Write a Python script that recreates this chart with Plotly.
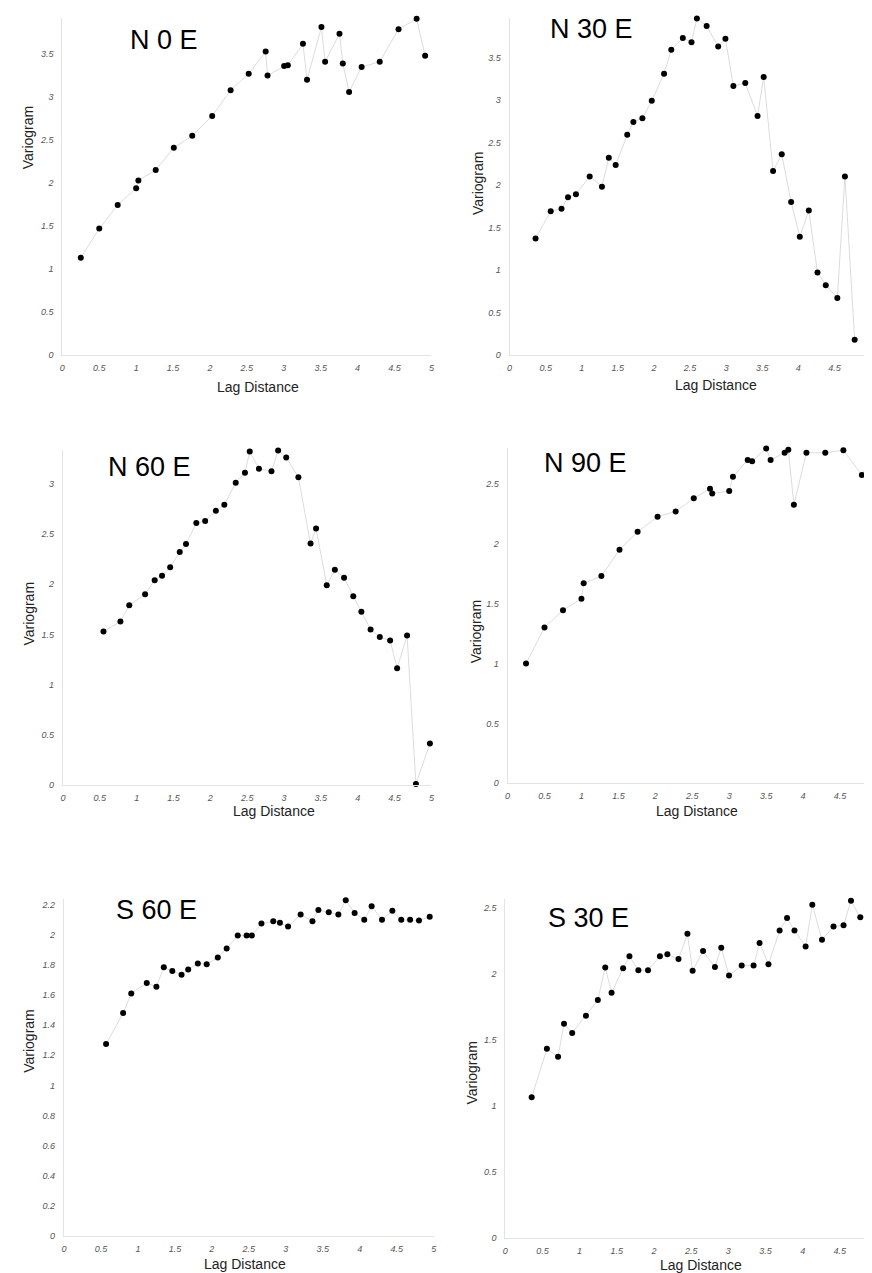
import plotly.graph_objects as go

# ---------------- data ----------------
n0e_lag = [0.25, 0.50, 0.75, 1.00, 1.03, 1.265, 1.51, 1.76, 2.03, 2.28, 2.525, 2.755, 2.78, 3.005, 3.055,
           3.26, 3.315, 3.51, 3.56, 3.755, 3.80, 3.885, 4.055, 4.30, 4.555, 4.80, 4.915]
n0e_var = [1.13, 1.47, 1.745, 1.94, 2.03, 2.15, 2.41, 2.55, 2.78, 3.08, 3.27, 3.53, 3.25, 3.36, 3.37,
           3.62, 3.20, 3.815, 3.41, 3.735, 3.39, 3.06, 3.35, 3.41, 3.79, 3.91, 3.48]

n30e_lag = [0.36, 0.57, 0.72, 0.81, 0.92, 1.11, 1.28, 1.375, 1.47, 1.63, 1.715, 1.84, 1.97, 2.14, 2.24,
            2.40, 2.52, 2.595, 2.73, 2.89, 2.99, 3.10, 3.265, 3.435, 3.52, 3.65, 3.77, 3.90, 4.02,
            4.145, 4.265, 4.38, 4.54, 4.645, 4.78]
n30e_var = [1.37, 1.69, 1.72, 1.856, 1.89, 2.10, 1.98, 2.32, 2.235, 2.59, 2.74, 2.785, 2.99, 3.31, 3.59,
            3.73, 3.68, 3.96, 3.87, 3.63, 3.72, 3.165, 3.20, 2.81, 3.27, 2.165, 2.36, 1.80, 1.39,
            1.70, 0.97, 0.82, 0.67, 2.10, 0.18]

n60e_lag = [0.55, 0.78, 0.90, 1.115, 1.245, 1.345, 1.455, 1.585, 1.67, 1.81, 1.93, 2.075, 2.19, 2.345,
            2.47, 2.535, 2.66, 2.83, 2.92, 3.03, 3.195, 3.36, 3.435, 3.58, 3.69, 3.815, 3.94, 4.05,
            4.175, 4.30, 4.44, 4.535, 4.67, 4.79, 4.98]
n60e_var = [1.53, 1.63, 1.79, 1.90, 2.04, 2.085, 2.17, 2.32, 2.40, 2.61, 2.63, 2.73, 2.79, 3.01,
            3.11, 3.32, 3.15, 3.125, 3.33, 3.26, 3.065, 2.405, 2.555, 1.99, 2.145, 2.065, 1.88, 1.725,
            1.55, 1.475, 1.44, 1.165, 1.49, 0.013, 0.415]

n90e_lag = [0.25, 0.50, 0.75, 1.00, 1.03, 1.27, 1.515, 1.76, 2.03, 2.275, 2.52, 2.74, 2.77, 3.00, 3.05,
            3.25, 3.31, 3.50, 3.56, 3.75, 3.80, 3.875, 4.045, 4.30, 4.545, 4.795, 4.91]
n90e_var = [1.00, 1.30, 1.445, 1.54, 1.67, 1.73, 1.95, 2.10, 2.225, 2.27, 2.38, 2.46, 2.42, 2.44, 2.56,
            2.70, 2.69, 2.795, 2.70, 2.76, 2.785, 2.325, 2.76, 2.76, 2.78, 2.575, 2.705]

s60e_lag = [0.57, 0.80, 0.91, 1.12, 1.25, 1.35, 1.465, 1.59, 1.68, 1.81, 1.93, 2.08, 2.20, 2.35, 2.47,
            2.54, 2.67, 2.83, 2.92, 3.03, 3.20, 3.36, 3.44, 3.58, 3.71, 3.81, 3.93, 4.06, 4.16, 4.30,
            4.44, 4.56, 4.68, 4.80, 4.945]
s60e_var = [1.274, 1.48, 1.61, 1.68, 1.655, 1.785, 1.76, 1.735, 1.77, 1.81, 1.805, 1.85, 1.91, 1.995,
            1.995, 1.995, 2.075, 2.09, 2.08, 2.055, 2.135, 2.09, 2.165, 2.15, 2.135, 2.23, 2.145, 2.10,
            2.19, 2.10, 2.16, 2.10, 2.10, 2.095, 2.12]

s30e_lag = [0.355, 0.56, 0.71, 0.79, 0.90, 1.085, 1.245, 1.345, 1.43, 1.585, 1.67, 1.79, 1.92, 2.08,
            2.18, 2.33, 2.45, 2.52, 2.66, 2.82, 2.905, 3.01, 3.18, 3.34, 3.42, 3.54, 3.69, 3.79, 3.89,
            4.04, 4.13, 4.26, 4.415, 4.55, 4.65, 4.775, 4.92]
s30e_var = [1.063, 1.43, 1.37, 1.62, 1.55, 1.68, 1.80, 2.045, 1.855, 2.04, 2.13, 2.025, 2.025, 2.13,
            2.145, 2.11, 2.30, 2.02, 2.17, 2.05, 2.195, 1.985, 2.06, 2.06, 2.23, 2.07, 2.325, 2.42, 2.325,
            2.205, 2.52, 2.255, 2.355, 2.365, 2.55, 2.425, 2.45]

titles = ["N 0 E", "N 30 E", "N 60 E", "N 90 E", "S 60 E", "S 30 E"]
x_label = "Lag Distance"
y_label = "Variogram"

series = [(n0e_lag, n0e_var), (n30e_lag, n30e_var), (n60e_lag, n60e_var),
          (n90e_lag, n90e_var), (s60e_lag, s60e_var), (s30e_lag, s30e_var)]

# ---------------- layout (pixel geometry) ----------------
W, H = 872, 1273
# plot-area boxes: (left, right, top, bottom) in px
boxes = [(51.7, 423.3, 10, 348.3), (502, 865.5, 10, 348.3),
         (52.3, 423.3, 443.3, 780.3), (500, 872, 441.7, 778.3),
         (53.3, 425.7, 895, 1232.7), (497.7, 872, 895, 1234.7)]
y_max = [3.92, 3.965, 3.34, 2.80, 2.235, 2.56]
y_dtick = [0.5, 0.5, 0.5, 0.5, 0.2, 0.5]
title_pos = [(154, 32), (585, 21), (139, 461), (578, 457), (147, 906), (582, 914)]
ylab_pos = [(18, 130), (471, 176), (18, 608), (468, 626), (18, 1037), (464, 1069)]
xlab_pos = [(249, 380), (710, 378), (265, 806), (691, 806), (236, 1261), (695, 1262)]

FONT = "Liberation Sans, Arial, sans-serif"

def px(x):
    return x / W

def py(y):
    return 1 - y / H

fig = go.Figure()
layout = dict(width=W, height=H, margin=dict(l=0, r=0, t=0, b=0),
              paper_bgcolor="white", plot_bgcolor="white", showlegend=False)
annotations = []

for i, ((lag, var), box) in enumerate(zip(series, boxes)):
    k = "" if i == 0 else str(i + 1)
    fig.add_trace(go.Scatter(x=lag, y=var, mode="lines+markers",
                             line=dict(color="#dcdcdc", width=1),
                             marker=dict(color="black", size=6),
                             cliponaxis=False,
                             xaxis="x" + k, yaxis="y" + k))
    l, r, t, b = box
    tickfont = dict(family=FONT, size=9, color="#555555", style="italic")
    layout["xaxis" + k] = dict(domain=[px(l), px(r)], range=[0, 5], anchor="y" + k,
                               dtick=0.5, tick0=0, showgrid=False, zeroline=False,
                               showline=True, linecolor="#e3e3e3", linewidth=1,
                               ticks="", tickfont=tickfont, ticklabelstandoff=4)
    layout["yaxis" + k] = dict(domain=[py(b), py(t)], range=[0, y_max[i]], anchor="x" + k,
                               dtick=y_dtick[i], tick0=0, showgrid=False, zeroline=False,
                               showline=True, linecolor="#e3e3e3", linewidth=1,
                               ticks="", tickfont=tickfont, ticklabelstandoff=6)
    tx, ty = title_pos[i]
    annotations.append(dict(text=titles[i], x=px(tx), y=py(ty), xref="paper", yref="paper",
                            showarrow=False, xanchor="center", yanchor="middle",
                            font=dict(family=FONT, size=27, color="black")))
    lx, ly = ylab_pos[i]
    annotations.append(dict(text=y_label, x=px(lx), y=py(ly), xref="paper", yref="paper",
                            showarrow=False, textangle=-90, xanchor="center", yanchor="middle",
                            font=dict(family=FONT, size=14, color="#222222")))
    ax, ay = xlab_pos[i]
    annotations.append(dict(text=x_label, x=px(ax), y=py(ay), xref="paper", yref="paper",
                            showarrow=False, xanchor="center", yanchor="middle",
                            font=dict(family=FONT, size=14, color="#222222")))

layout["annotations"] = annotations
fig.update_layout(**layout)
fig.write_html("out.html")
